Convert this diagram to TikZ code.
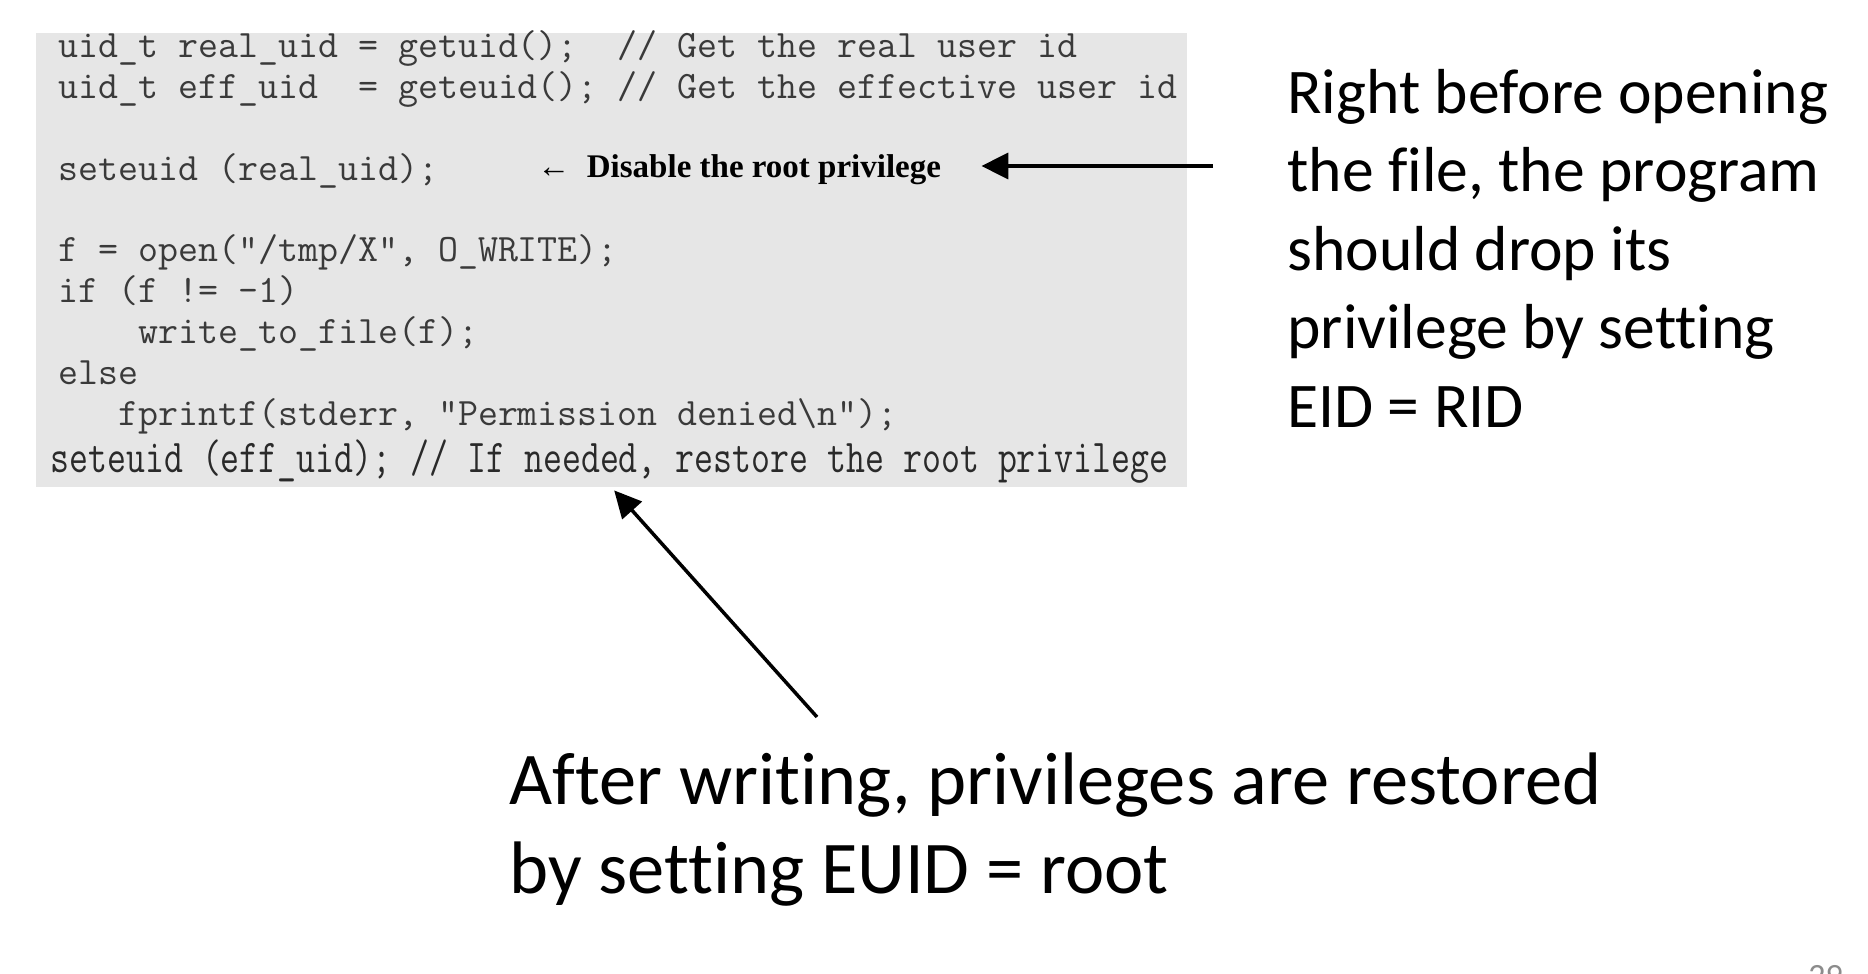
\documentclass[tikz,border=0pt]{standalone}
\usepackage{fontspec}
\usepackage{graphicx}
\usetikzlibrary{arrows.meta}
\newfontfamily\slidefont{Carlito}[Ligatures=NoCommon]
\newfontfamily\bookfont{Liberation Serif}
\definecolor{listgray}{HTML}{E6E6E6}
\definecolor{codeink}{HTML}{3A3A3A}
\definecolor{lastink}{HTML}{2A2A2A}
\definecolor{pagenum}{HTML}{8C8C8C}

\begin{document}
\begin{tikzpicture}[x=0.5pt,y=-0.5pt,
  codebox/.style={fill=listgray, inner sep=0pt, minimum width=575.5pt, minimum height=227pt},
  code/.style={inner sep=0pt, align=left, text=codeink, font=\ttfamily\fontsize{19.4pt}{20.4pt}\selectfont},
  remark/.style={inner sep=0pt, font=\bookfont\bfseries\fontsize{16.5pt}{20pt}\selectfont},
  note/.style={inner sep=0pt, align=left, font=\slidefont\fontsize{31.8pt}{39.2pt}\selectfont},
  pointer/.style={line width=1.75pt, -{Triangle[length=13.5pt,width=13pt]}}]
\useasboundingbox (0,0) rectangle (1868,974);

% code listing (base = baseline of the last line)
\node[codebox] (listing) at (611.5,260) {};
\node[code, anchor=base west] (src) at (58,425) {uid\_t real\_uid = getuid();\ \ // Get the real user id\\
uid\_t eff\_uid\ \ = geteuid(); // Get the effective user id\\[20.4pt]
seteuid (real\_uid);\\[20.4pt]
f = open("/tmp/X", O\_WRITE);\\
if (f != -1)\\
\ \ \ \ write\_to\_file(f);\\
else\\
\ \ \ fprintf(stderr, "Permission denied\textbackslash n");};
\node[code, text=lastink, anchor=base west] (restoreline) at (50,472)
  {\fontsize{18.4pt}{20pt}\selectfont\scalebox{1}[1.28]{seteuid (eff\_uid); // If needed, restore the root privilege}};
\node[remark, anchor=base west] (disable) at (537,177) {←\ \ Disable the root privilege};

% notes
\node[note, anchor=base west] (dropnote) at (1287,427) {Right before opening\\the file, the program\\should drop its\\privilege by setting\\EID = RID};
\node[note, font=\slidefont\fontsize{37.2pt}{44.5pt}\selectfont, anchor=base west] (restorenote) at (509,893)
  {After writing, privileges are restored\\by setting EUID = root};
\node[inner sep=0pt, text=pagenum, font=\slidefont\fontsize{17pt}{19pt}\selectfont, anchor=north west] (page) at (1808,965) {29};

% arrows
\coordinate (dropTail) at (1213,166);
\coordinate (restoreTail) at (817,717);
\draw[pointer, shorten >=20pt] (dropTail) -- (dropTail -| disable.east);
\draw[pointer, shorten >=2pt] (restoreTail) -- (listing.south);
\end{tikzpicture}
\end{document}
